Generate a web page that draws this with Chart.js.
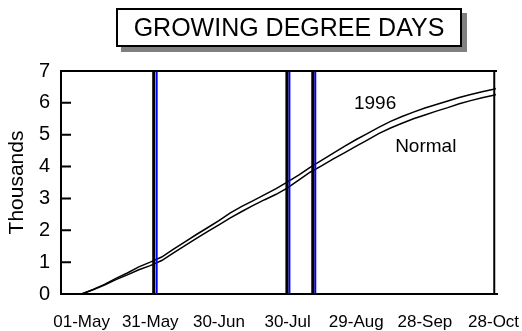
<!DOCTYPE html>
<html>
<head>
<meta charset="utf-8">
<script src="https://cdn.jsdelivr.net/npm/chart.js@4.4.1/dist/chart.umd.min.js"></script>
<style>
  html, body { margin: 0; padding: 0; background: #fff; }
  #wrap { position: relative; width: 522px; height: 331px; }
  #gddChart { position: absolute; left: 0; top: 0; }
  #title {
    position: absolute; left: 116px; top: 8px; width: 342px; height: 35px;
    border: 2px solid #000; background: #fff; box-shadow: 5px 5px 0 #808080;
    font: 25px "Liberation Sans", Arial, sans-serif; color: #000;
    text-align: center; line-height: 35px; z-index: 2;
  }
</style>
</head>
<body>
<div id="wrap">
  <div id="title">GROWING DEGREE DAYS</div>
  <canvas id="gddChart" width="522" height="331"></canvas>
</div>
<script>
// days after 01-May
const dayOffsets = [0, 5, 10, 15, 20, 25, 30, 35, 40, 45, 50, 55, 60, 65, 70, 75, 80, 85, 90,
  95, 100, 105, 110, 115, 120, 125, 130, 135, 140, 145, 150, 155, 160, 165, 170, 175, 180, 181];

// accumulated GDD, thousands
const gdd1996 = [0, 0.14, 0.30, 0.49, 0.66, 0.85, 1.00, 1.16, 1.40, 1.63, 1.86, 2.08, 2.30, 2.55,
  2.75, 2.93, 3.12, 3.31, 3.52, 3.74, 3.98, 4.20, 4.42, 4.64, 4.85, 5.04, 5.24, 5.42, 5.57, 5.71,
  5.84, 5.95, 6.06, 6.17, 6.26, 6.35, 6.43, 6.45];
const gddNormal = [0, 0.13, 0.28, 0.45, 0.60, 0.76, 0.89, 1.05, 1.28, 1.51, 1.74, 1.96, 2.17, 2.39,
  2.59, 2.78, 2.96, 3.13, 3.33, 3.58, 3.83, 4.03, 4.24, 4.44, 4.64, 4.84, 5.04, 5.21, 5.36, 5.50,
  5.62, 5.74, 5.85, 5.97, 6.07, 6.16, 6.24, 6.26];

// stage dates (days after 01-May)
const blackMarkerDays = [31.5, 89.7, 101];
const blueMarkerDays = [32.8, 90.8, 102.1];
const endMarkerDay = 180.3;

const tickDays = [0, 30, 60, 90, 120, 150, 180];
const tickLabels = ['01-May', '31-May', '30-Jun', '30-Jul', '29-Aug', '28-Sep', '28-Oct'];
const yMin = 0, yMax = 7;

const FONT = '"Liberation Sans", Arial, sans-serif';

function toPoints(days, vals) {
  return days.map((d, i) => ({ x: d, y: vals[i] }));
}
function vline(day) {
  return [{ x: day, y: yMin }, { x: day, y: yMax }];
}

const datasets = [];
blackMarkerDays.forEach(d => datasets.push({
  data: vline(d), borderColor: '#000', borderWidth: 3, pointRadius: 0, showLine: true
}));
blueMarkerDays.forEach(d => datasets.push({
  data: vline(d), borderColor: '#0000ff', borderWidth: 2, pointRadius: 0, showLine: true
}));
datasets.push({ data: vline(endMarkerDay), borderColor: '#000', borderWidth: 2, pointRadius: 0, showLine: true });
datasets.push({ label: '1996', data: toPoints(dayOffsets, gdd1996), borderColor: '#000', borderWidth: 1.5, pointRadius: 0, showLine: true });
datasets.push({ label: 'Normal', data: toPoints(dayOffsets, gddNormal), borderColor: '#000', borderWidth: 1.5, pointRadius: 0, showLine: true });

// top frame line and the inward y ticks
const frame = {
  id: 'frame',
  afterDraw(chart) {
    const { ctx, chartArea } = chart;
    const y = chart.scales.y;
    ctx.save();
    ctx.strokeStyle = '#000';
    ctx.lineWidth = 2;
    ctx.beginPath();
    ctx.moveTo(chartArea.left - 1, chartArea.top);
    ctx.lineTo(chartArea.right, chartArea.top);
    y.ticks.forEach(t => {
      const py = y.getPixelForValue(t.value);
      ctx.moveTo(chartArea.left, py);
      ctx.lineTo(chartArea.left + 10, py);
    });
    ctx.stroke();
    ctx.restore();
  }
};

// series names written beside the curves
const seriesNames = {
  id: 'seriesNames',
  afterDatasetsDraw(chart, args, opts) {
    const { ctx } = chart;
    const { x, y } = chart.scales;
    ctx.save();
    ctx.fillStyle = '#000';
    ctx.font = '19px ' + FONT;
    ctx.textAlign = 'left';
    ctx.textBaseline = 'middle';
    opts.items.forEach(it => {
      ctx.fillText(it.text, x.getPixelForValue(it.x), y.getPixelForValue(it.y));
    });
    ctx.restore();
  }
};

new Chart(document.getElementById('gddChart'), {
  type: 'scatter',
  data: { datasets },
  plugins: [frame, seriesNames],
  options: {
    responsive: false,
    animation: false,
    devicePixelRatio: 1,
    layout: { padding: { left: 0, right: 25, top: 71, bottom: 0 } },
    plugins: {
      legend: { display: false },
      tooltip: { enabled: false },
      seriesNames: {
        items: [
          { text: '1996', x: 119, y: 5.96 },
          { text: 'Normal', x: 137, y: 4.61 }
        ]
      }
    },
    scales: {
      x: {
        type: 'linear',
        min: -9,
        max: 181.5,
        afterFit(scale) {
          scale.height = 37;
          // labels may hang past the plot edge
          scale.paddingLeft = 0;
          scale.paddingRight = 0;
        },
        afterBuildTicks(scale) { scale.ticks = tickDays.map(v => ({ value: v })); },
        grid: { drawOnChartArea: false, drawTicks: false },
        border: { display: true, color: '#000', width: 2 },
        ticks: {
          autoSkip: false,
          maxRotation: 0,
          padding: 18,
          color: '#000',
          font: { family: FONT, size: 17 },
          callback: v => tickLabels[tickDays.indexOf(v)]
        }
      },
      y: {
        min: yMin,
        max: yMax,
        afterFit(scale) { scale.width = 61; },
        grid: { drawOnChartArea: false, drawTicks: false },
        border: { display: true, color: '#000', width: 2 },
        ticks: {
          stepSize: 1,
          padding: 11,
          color: '#000',
          font: { family: FONT, size: 20 }
        },
        title: {
          display: true,
          text: 'Thousands',
          color: '#000',
          padding: { top: 5, bottom: 0 },
          font: { family: FONT, size: 21 }
        }
      }
    }
  }
});
</script>
</body>
</html>
